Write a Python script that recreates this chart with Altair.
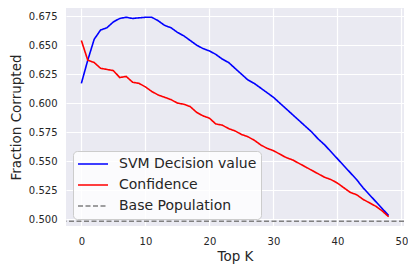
import altair as alt
import pandas as pd

top_k = list(range(49))
svm_values = [0.617, 0.637, 0.655, 0.663, 0.665, 0.670, 0.673, 0.674, 0.673, 0.6735,
              0.674, 0.674, 0.671, 0.667, 0.665, 0.661, 0.658, 0.654, 0.650, 0.647,
              0.645, 0.642, 0.638, 0.635, 0.630, 0.625, 0.620, 0.617, 0.613, 0.609,
              0.605, 0.600, 0.595, 0.590, 0.585, 0.580, 0.575, 0.569, 0.564, 0.558,
              0.552, 0.546, 0.540, 0.534, 0.527, 0.521, 0.515, 0.509, 0.503]
confidence_values = [0.654, 0.637, 0.635, 0.630, 0.629, 0.628, 0.622, 0.623, 0.618, 0.617,
                     0.614, 0.610, 0.607, 0.605, 0.603, 0.600, 0.599, 0.597, 0.592, 0.589,
                     0.587, 0.582, 0.581, 0.578, 0.576, 0.573, 0.571, 0.568, 0.564, 0.561,
                     0.559, 0.556, 0.553, 0.551, 0.548, 0.545, 0.542, 0.539, 0.536, 0.534,
                     0.531, 0.527, 0.523, 0.521, 0.517, 0.514, 0.511, 0.507, 0.502]
base_population = 0.498

series_names = ["SVM Decision value", "Confidence", "Base Population"]
series_colors = ["#0000ff", "#ff0000", "#808080"]
series_dashes = [[1, 0], [1, 0], [5, 2.5]]
x_ticks = [0, 10, 20, 30, 40, 50]
y_ticks = [0.500, 0.525, 0.550, 0.575, 0.600, 0.625, 0.650, 0.675]

df = pd.DataFrame({
    "k": top_k * 2,
    "v": svm_values + confidence_values,
    "series": [series_names[0]] * len(top_k) + [series_names[1]] * len(top_k),
})
base_df = pd.DataFrame({"v": [base_population], "series": [series_names[2]]})

color = alt.Color("series:N", sort=series_names,
                  scale=alt.Scale(domain=series_names, range=series_colors),
                  legend=alt.Legend(title=None, orient="bottom-left", offset=7,
                                    fillColor="rgba(255,255,255,0.8)",
                                    strokeColor="#cccccc", cornerRadius=4,
                                    padding=4, symbolType="stroke", symbolSize=900,
                                    symbolStrokeWidth=1.5, labelFontSize=14,
                                    labelFont="DejaVu Sans", labelColor="#262626",
                                    clipHeight=18, rowPadding=3, labelOffset=10,
                                    labelLimit=300))
dash = alt.StrokeDash("series:N", sort=series_names,
                      scale=alt.Scale(domain=series_names, range=series_dashes),
                      legend=alt.Legend(title=None))

x = alt.X("k:Q", title="Top K",
          scale=alt.Scale(domain=[-2.4, 50.4], nice=False, zero=False),
          axis=alt.Axis(values=x_ticks, format="d"))
y = alt.Y("v:Q", title="Fraction Corrupted",
          scale=alt.Scale(domain=[0.494, 0.682], nice=False, zero=False),
          axis=alt.Axis(values=y_ticks, format=".3f"))

lines = alt.Chart(df).mark_line(strokeWidth=1.6, clip=True).encode(
    x=x, y=y, color=color, strokeDash=dash,
)

base = alt.Chart(base_df).mark_rule(strokeWidth=1.5).encode(
    y=y, color=color, strokeDash=dash,
)

chart = alt.layer(lines, base).properties(
    width=338, height=218,
    autosize=alt.AutoSizeParams(type="none"),
    padding={"left": 58, "top": 0, "right": 4, "bottom": 38},
).configure_view(
    fill="#EAEAF2", stroke=None
).configure_axis(
    grid=True, gridColor="white", gridWidth=1.2, domain=False, ticks=False,
    labelFont="DejaVu Sans", labelFontSize=10, labelColor="#262626",
    labelOverlap=False, labelBound=False, labelFlush=False,
    titleFont="DejaVu Sans", titleFontSize=13.5, titleColor="#262626",
    titleFontWeight="normal",
).configure_axisY(
    labelPadding=9, titlePadding=5
).configure_axisX(
    labelPadding=10, titlePadding=3
)

chart.save("out.html", embed_options={"renderer": "svg", "actions": False})
